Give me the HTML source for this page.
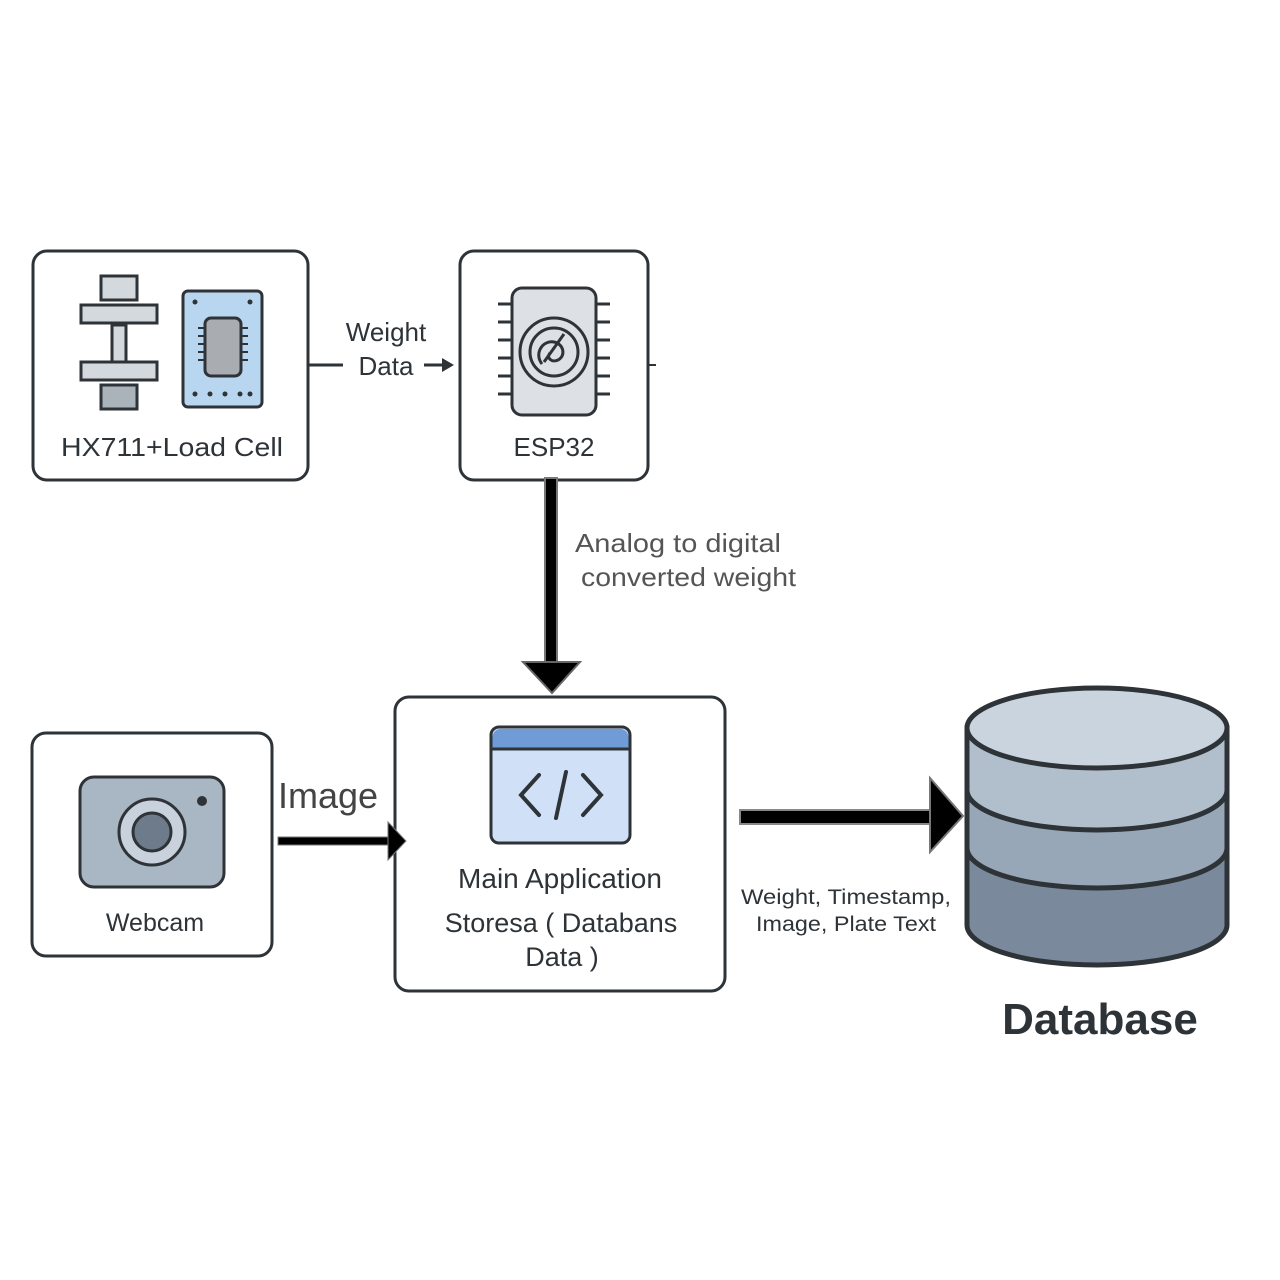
<!DOCTYPE html>
<html><head><style>
html,body{margin:0;padding:0;background:#fff;}
svg{display:block;}
text{font-family:"Liberation Sans",sans-serif;}
</style></head><body>
<svg width="1280" height="1280" viewBox="0 0 1280 1280" xmlns="http://www.w3.org/2000/svg">
<g fill="none" stroke="#2e3338" stroke-width="3">
<rect x="33" y="251" width="275" height="229" rx="14" fill="#fff"/>
<rect x="460" y="251" width="188" height="229" rx="14" fill="#fff"/>
<rect x="32" y="733" width="240" height="223" rx="14" fill="#fff"/>
<rect x="395" y="697" width="330" height="294" rx="14" fill="#fff"/>
</g>
<!-- load cell -->
<g stroke="#2e3338" stroke-width="3">
<rect x="101" y="276" width="36" height="24" fill="#d4d9de"/>
<rect x="112" y="325" width="14" height="38" fill="#d4d9de"/>
<rect x="81" y="305" width="76" height="18" fill="#d4d9de"/>
<rect x="81" y="362" width="76" height="18" fill="#d4d9de"/>
<rect x="101" y="385" width="36" height="24" fill="#aab2ba"/>
<rect x="183" y="291" width="79" height="116" rx="5" fill="#b9d6f0"/>
<rect x="205" y="318" width="36" height="58" rx="6" fill="#a9adb2"/>
</g>
<g fill="#2e3338">
<circle cx="195" cy="302" r="2.5"/><circle cx="250" cy="302" r="2.5"/>
<circle cx="195" cy="394" r="2.5"/><circle cx="210" cy="394" r="2.5"/><circle cx="225" cy="394" r="2.5"/><circle cx="240" cy="394" r="2.5"/><circle cx="250" cy="394" r="2.5"/>
</g>
<g stroke="#2e3338" stroke-width="2">
<path d="M198 328h7M198 336h7M198 344h7M198 352h7M198 360h7M241 328h7M241 336h7M241 344h7M241 352h7M241 360h7"/>
</g>
<text x="172" y="456" font-size="26" fill="#2e3338" text-anchor="middle" textLength="222" lengthAdjust="spacingAndGlyphs">HX711+Load Cell</text>
<!-- esp32 -->
<g stroke="#2e3338" stroke-width="3" fill="none">
<path d="M498 304h14M498 322h14M498 340h14M498 358h14M498 376h14M498 394h14M596 304h14M596 322h14M596 340h14M596 358h14M596 376h14M596 394h14"/>
<rect x="512" y="288" width="84" height="127" rx="10" fill="#dde1e6"/>
<circle cx="554" cy="352" r="34"/>
<circle cx="554" cy="352" r="24"/>
<path d="M542 364c-8-10 0-24 12-22c10 2 12 14 4 18c-6 3-12-2-8-7M564 334l-20 28"/>
</g>
<text x="554" y="456" font-size="26" fill="#2e3338" text-anchor="middle" font-weight="bold" style="font-weight:500">ESP32</text>
<line x1="648" y1="365" x2="656" y2="365" stroke="#2e3338" stroke-width="2"/>
<!-- weight data -->
<line x1="309" y1="365" x2="343" y2="365" stroke="#2e3338" stroke-width="3"/>
<text x="386" y="341" font-size="26" fill="#2e3338" text-anchor="middle">Weight</text>
<text x="386" y="375" font-size="26" fill="#2e3338" text-anchor="middle">Data</text>
<line x1="424" y1="365" x2="444" y2="365" stroke="#2e3338" stroke-width="3"/>
<path d="M442 358l12 7-12 7z" fill="#2e3338"/>
<!-- down arrow -->
<rect x="545" y="478" width="12" height="190" fill="#000" stroke="#777" stroke-width="2"/>
<path d="M523 662h57l-28 31z" fill="#000" stroke="#666" stroke-width="2"/>
<text x="575" y="552" font-size="26" fill="#555" textLength="206" lengthAdjust="spacingAndGlyphs">Analog to digital</text>
<text x="581" y="586" font-size="26" fill="#555" textLength="215" lengthAdjust="spacingAndGlyphs">converted weight</text>
<!-- webcam -->
<rect x="80" y="777" width="144" height="110" rx="14" fill="#a9b6c4" stroke="#2e3338" stroke-width="3"/>
<circle cx="152" cy="832" r="33" fill="#c9d2dc" stroke="#2e3338" stroke-width="3"/>
<circle cx="152" cy="832" r="19" fill="#6d7b8b" stroke="#2e3338" stroke-width="3"/>
<circle cx="202" cy="801" r="5" fill="#2e3338"/>
<text x="155" y="931" font-size="25" fill="#2e3338" text-anchor="middle">Webcam</text>
<!-- image arrow -->
<text x="278" y="808" font-size="36" fill="#444">Image</text>
<rect x="278" y="837" width="112" height="8" fill="#000" stroke="#777" stroke-width="1"/>
<path d="M388 822l18 19-18 19z" fill="#000" stroke="#777" stroke-width="1"/>
<!-- main app icon -->
<rect x="491" y="727" width="139" height="116" rx="8" fill="#cfe0f7" stroke="#2e3338" stroke-width="3"/>
<path d="M492.5 748h136v-11a8 8 0 0 0-8-8h-120a8 8 0 0 0-8 8z" fill="#6f9bd6"/>
<line x1="491" y1="749" x2="630" y2="749" stroke="#2e3338" stroke-width="3"/>
<path d="M539 775l-18 20 18 20M583 775l18 20-18 20M566 772l-10 46" fill="none" stroke="#2e3338" stroke-width="4" stroke-linecap="round"/>
<text x="560" y="888" font-size="28" fill="#2e3338" text-anchor="middle">Main Application</text>
<text x="561" y="932" font-size="27" fill="#2e3338" text-anchor="middle">Storesa (  Databans</text>
<text x="562" y="966" font-size="27" fill="#2e3338" text-anchor="middle">Data  )</text>
<!-- db arrow -->
<rect x="740" y="810" width="192" height="14" fill="#000" stroke="#888" stroke-width="2"/>
<path d="M930 778l33 38-33 36z" fill="#000" stroke="#777" stroke-width="2"/>
<text x="846" y="904" font-size="21" fill="#2e3338" text-anchor="middle" textLength="210" lengthAdjust="spacingAndGlyphs">Weight, Timestamp,</text>
<text x="846" y="931" font-size="21" fill="#2e3338" text-anchor="middle" textLength="180" lengthAdjust="spacingAndGlyphs">Image, Plate Text</text>
<!-- database -->
<g stroke="#2e3338" stroke-width="5">
<path d="M967 848v77a130 40 0 0 0 260 0v-77z" fill="#7a8a9c"/>
<path d="M967 790v58a130 40 0 0 0 260 0v-58z" fill="#97a7b8"/>
<path d="M967 728v62a130 40 0 0 0 260 0v-62z" fill="#b1bfcc"/>
<ellipse cx="1097" cy="728" rx="130" ry="40" fill="#cad4de"/>
</g>
<text x="1100" y="1034" font-size="44" fill="#2e3338" text-anchor="middle" font-weight="bold">Database</text>
</svg>
</body></html>
